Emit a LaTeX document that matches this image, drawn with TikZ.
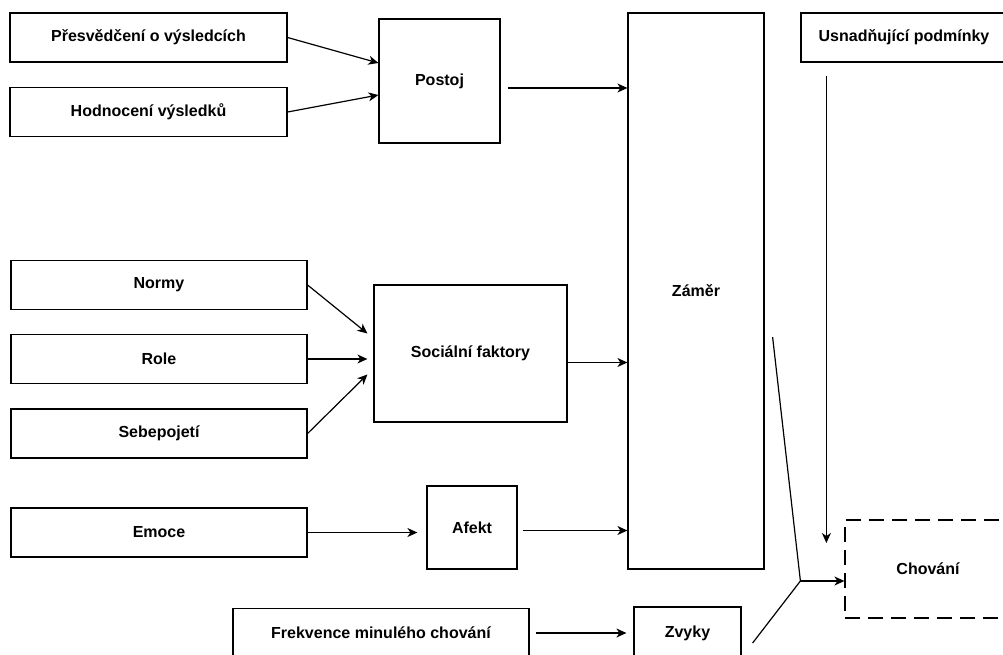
\documentclass[tikz,border=0pt]{standalone}
\usepackage{fontspec}
\setmainfont{Liberation Sans}
\usetikzlibrary{arrows.meta}

\begin{document}
\begin{tikzpicture}[x=1pt,y=-1pt,
   >={Stealth[length=10pt,width=9pt,inset=3pt]},
   box/.style={draw,line width=1.2pt,inner sep=0pt,
      font=\bfseries\fontsize{16}{19}\selectfont},
   inbox/.style={box,minimum width=296pt,minimum height=49pt},
   conn/.style={line width=1.2pt}]

   \useasboundingbox (0,0) rectangle (1003,655);

   % top row
   \node[box,minimum width=277pt,minimum height=49pt] (presv) at (148.5,37.5) {Přesvědčení o výsledcích};
   \node[box,minimum width=277pt,minimum height=49pt] (hodn) at (148.5,112) {Hodnocení výsledků};
   \node[box,minimum width=121pt,minimum height=124pt] (postoj) at (439.5,81) {Postoj};
   \node[box,minimum width=136pt,minimum height=556pt] (zamer) at (696,291) {Záměr};
   \node[box,minimum width=206pt,minimum height=49pt] (usnad) at (904,37.5) {Usnadňující podmínky};

   % middle
   \node[inbox] (normy) at (159,285) {Normy};
   \node[inbox] (role) at (159,359) {Role};
   \node[inbox] (sebe) at (159,433.5) {Sebepojetí};
   \node[box,minimum width=193pt,minimum height=137pt] (soc) at (470.5,353.5) {Sociální faktory};

   % bottom
   \node[inbox] (emoce) at (159,532.5) {Emoce};
   \node[box,minimum width=90pt,minimum height=83pt] (afekt) at (472,527.5) {Afekt};
   \node[inbox] (frek) at (381,633) {Frekvence minulého chování};
   \node[box,minimum width=107pt,minimum height=52pt] (zvyky) at (687.5,633) {Zvyky};
   \node[box,dash pattern=on 15pt off 8pt,minimum width=166pt,minimum height=98pt] (chovani) at (928,569) {Chování};

   \draw[conn,->] (presv.east) -- ([yshift=18pt]postoj.west);
   \draw[conn,->] (hodn.east) -- ([yshift=-14pt]postoj.west);
   \draw[conn,->] ([xshift=7pt,yshift=-7pt]postoj.east) coordinate (p1) -- (p1 -| zamer.west);

   \draw[conn,->] (normy.east) -- ([xshift=-6pt,yshift=20pt]soc.west);
   \draw[conn,->,shorten >=6pt] (role.east) -- (role.east -| soc.west);
   \draw[conn,->] (sebe.east) -- ([xshift=-6pt,yshift=-21pt]soc.west);
   \draw[conn,->] ([yshift=-9pt]soc.east) coordinate (s1) -- (s1 -| zamer.west);

   \draw[conn,->,shorten >=9pt] (emoce.east) -- (emoce.east -| afekt.west);
   \draw[conn,->] ([xshift=5pt,yshift=-3pt]afekt.east) coordinate (a1) -- (a1 -| zamer.west);
   \draw[conn,->,shorten <=6pt,shorten >=7pt] (frek.east) -- (zvyky.west);

   \draw[conn,->,shorten >=26pt] ([xshift=26pt,yshift=-13pt]usnad.south west) coordinate (u1) -- (u1 |- chovani.west);

   % merging into behaviour
   \coordinate (merge) at ([xshift=-44pt,yshift=-12pt]chovani.west);
   \draw[conn] ([xshift=8pt,yshift=-46pt]zamer.east) -- (merge);
   \draw[conn] ([xshift=11pt,yshift=-10pt]zvyky.east) -- (merge);
   \draw[conn,->] (merge) -- (merge -| chovani.west);

\end{tikzpicture}
\end{document}
